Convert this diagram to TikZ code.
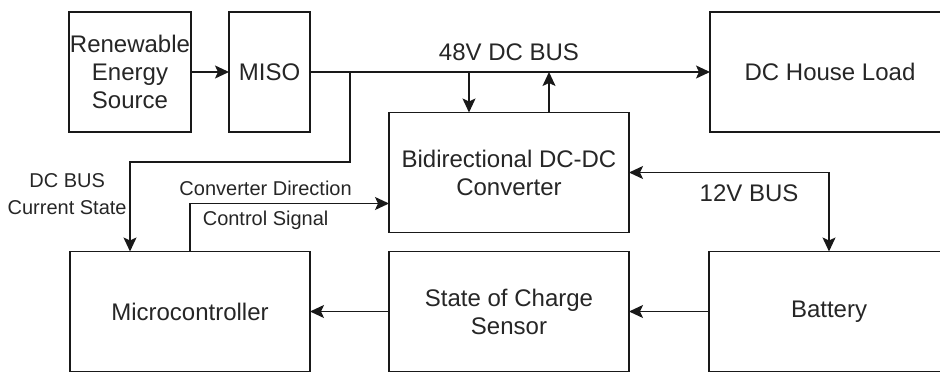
\documentclass[tikz,border=0pt]{standalone}
\usepackage{fontspec}
\setmainfont{Liberation Sans}
\usepackage{xcolor}
\usepackage{tikz}
\usetikzlibrary{arrows.meta, positioning}

\begin{document}
\begin{tikzpicture}[
    node distance=10pt and 40pt,
    box/.style={rectangle, draw=black!90, line width=0.75pt, fill=white,
                align=center, inner sep=0pt, outer sep=0pt,
                font=\fontsize{12}{14}\selectfont, text=black!85,
                minimum height=60pt, minimum width=120pt},
    arrow/.style={->, >={Stealth[length=7pt, width=6.5pt, inset=1.5pt]},
                  line width=0.75pt, draw=black!90},
    biarrow/.style={arrow, <->},
    note/.style={inner sep=0pt, text=black!85, align=center,
                 font=\fontsize{10}{13.5}\selectfont},
    busname/.style={inner sep=0pt, text=black!85,
                    font=\fontsize{12}{14}\selectfont}
]
\useasboundingbox (0,0) rectangle (470pt,-186.5pt);
\clip (0,0) rectangle (470pt,-186.5pt);

% top row
\node[box, minimum width=61pt] (ren_src) at (65pt,-36pt) {Renewable\\Energy\\Source};
\node[box, minimum width=40.5pt, right=19pt of ren_src] (miso) {MISO};
\node[box, right=200pt of miso] (dc_load) {DC House Load};

% converter and bottom row
\node[box, anchor=north west] (conv) at (194.5pt,-56.25pt) {Bidirectional DC-DC\\Converter};
\node[box, below=9.5pt of conv] (soc) {State of Charge\\Sensor};
\node[box, left=39.5pt of soc] (mcu) {Microcontroller};
\node[box, right=40pt of soc] (batt) {Battery};

% 48V bus
\draw[arrow] (ren_src) -- (miso);
\draw[arrow] (miso) -- (dc_load);
\node[busname, above=5.5pt] (bus48) at (conv.north |- miso.east) {48V DC BUS};
\coordinate (conv_in) at ([xshift=-20pt]conv.north);
\coordinate (conv_out) at ([xshift=20pt]conv.north);
\draw[arrow] (conv_in |- miso.east) -- (conv_in);
\draw[arrow] (conv_out) -- (conv_out |- miso.east);

% bus sensing
\coordinate (tap) at ([xshift=20pt]miso.east);
\coordinate (tap_low) at ([yshift=-45pt]tap);
\coordinate (drop) at (ren_src.south |- tap_low);
\draw[arrow] (tap) -- (tap_low) -| (ren_src.south |- mcu.north);
\node[note, anchor=north east] (bus_state) at ([shift={(-1.5pt,-5.5pt)}]drop) {DC BUS\\Current State};

% 12V bus
\draw[biarrow] (conv.east) -| (batt.north);
\node[busname, below=6pt] (bus12) at ([xshift=60pt]conv.east) {12V BUS};

% control signal
\coordinate (ctl_in) at ([yshift=-15.5pt]conv.west);
\draw[arrow] (mcu.north) |- node[note, pos=0.69, above=3.4pt] (dir_lbl) {Converter Direction}
    node[note, pos=0.69, below=3.4pt] (sig_lbl) {Control Signal} (ctl_in);

% state of charge
\draw[arrow] (batt) -- (soc);
\draw[arrow] (soc) -- (mcu);

\end{tikzpicture}
\end{document}
